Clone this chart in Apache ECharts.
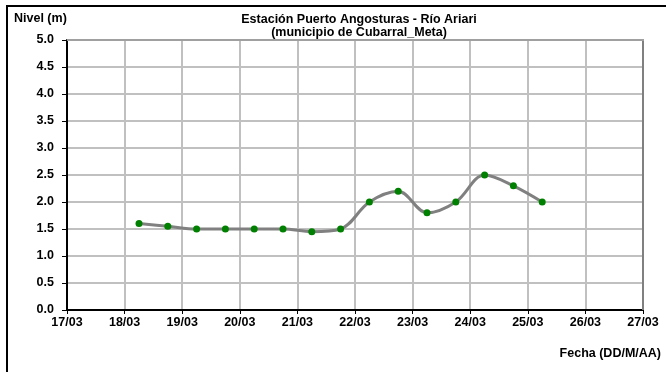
<!DOCTYPE html>
<html>
<head>
<meta charset="utf-8">
<script src="https://cdn.jsdelivr.net/npm/echarts@6/dist/echarts.min.js"></script>
<style>
  html, body { margin: 0; padding: 0; background: #fff; }
  #chart { width: 666px; height: 372px; }
</style>
</head>
<body>
<div id="chart"></div>
<script>
// dia del mes (marzo) en que se tomo cada lectura
const dias = [18.25, 18.75, 19.25, 19.75, 20.25, 20.75, 21.25, 21.75, 22.25, 22.75, 23.25, 23.75, 24.25, 24.75, 25.25];
// nivel del rio (m)
const niveles = [1.6, 1.55, 1.5, 1.5, 1.5, 1.5, 1.45, 1.5, 2.0, 2.2, 1.8, 2.0, 2.5, 2.3, 2.0];
const titulo = 'Estación Puerto Angosturas - Río Ariari\n(municipio de Cubarral_Meta)';
const mes = '03';

const font = '"Liberation Sans", Arial, sans-serif';
const chart = echarts.init(document.getElementById('chart'));

const option = {
  animation: false,
  title: {
    text: titulo,
    left: 354,
    top: 8,
    textAlign: 'center',
    textStyle: { fontFamily: font, fontSize: 12.5, fontWeight: 'bold', color: '#000', lineHeight: 13 }
  },
  grid: { left: 67, right: 23, top: 40, bottom: 62, show: false },
  xAxis: {
    type: 'value',
    min: 17, max: 27, interval: 1,
    axisLine: { show: true, onZero: false, lineStyle: { color: '#000', width: 2 } },
    axisTick: { show: true, length: 4, lineStyle: { color: '#000', width: 1 } },
    axisLabel: {
      fontFamily: font, fontSize: 12.5, fontWeight: 'bold', color: '#000', margin: 6,
      formatter: v => String(v).padStart(2, '0') + '/' + mes
    },
    splitLine: { show: true, lineStyle: { color: '#c0c0c0', width: 2 } }
  },
  yAxis: {
    type: 'value',
    min: 0, max: 5, interval: 0.5,
    axisLine: { show: true, lineStyle: { color: '#000', width: 2 } },
    axisTick: { show: true, length: 5, lineStyle: { color: '#000', width: 1 } },
    axisLabel: {
      fontFamily: font, fontSize: 12.5, fontWeight: 'bold', color: '#000', margin: 13,
      formatter: v => v.toFixed(1)
    },
    splitLine: { show: true, lineStyle: { color: '#c0c0c0', width: 2 } }
  },
  graphic: [
    { type: 'rect', z: 0, shape: { x: 7, y: 6, width: 700, height: 400 },
      style: { fill: null, stroke: '#000', lineWidth: 2 } },
    { type: 'line', z: 1, shape: { x1: 643, y1: 40, x2: 643, y2: 310 },
      style: { stroke: '#808080', lineWidth: 2 } },
    { type: 'line', z: 1, shape: { x1: 67, y1: 40, x2: 644, y2: 40 },
      style: { stroke: '#a0a0a0', lineWidth: 2 } },
    { type: 'text', left: 14, top: 12,
      style: { text: 'Nivel (m)', font: 'bold 12.5px ' + font, fill: '#000' } },
    { type: 'text', right: 5, top: 347,
      style: { text: 'Fecha (DD/M/AA)', font: 'bold 12.5px ' + font, fill: '#000' } }
  ],
  series: [{
    type: 'line',
    data: dias.map((d, i) => [d, niveles[i]]),
    smooth: 0.35,
    symbol: 'circle',
    symbolSize: 7,
    lineStyle: { color: '#808080', width: 3 },
    itemStyle: { color: '#008000' },
    z: 5
  }]
};

chart.setOption(option);
</script>
</body>
</html>
